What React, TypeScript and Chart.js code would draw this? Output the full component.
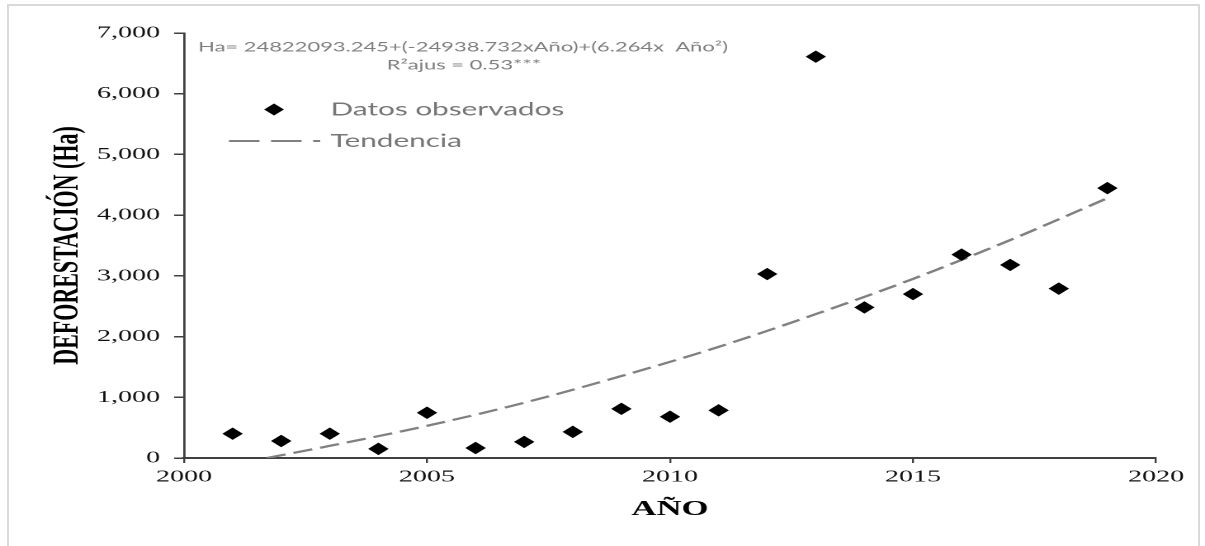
import React, { useEffect, useRef } from "react";
import { Chart, registerables } from "chart.js";

Chart.register(...registerables);

// ---- data ----
const years = [2001, 2002, 2003, 2004, 2005, 2006, 2007, 2008, 2009, 2010, 2011, 2012, 2013, 2014, 2015, 2016, 2017, 2018, 2019];
const deforestation = [400, 280, 400, 150, 745, 165, 265, 430, 810, 680, 785, 3030, 6610, 2480, 2700, 3350, 3180, 2790, 4445];

const trendYears = [2001.7, 2003, 2005, 2007, 2009, 2011, 2013, 2015, 2017, 2019];
const trendValues = [0, 200, 530, 910, 1350, 1830, 2370, 2950, 3590, 4280];

const xTicks = [2000, 2005, 2010, 2015, 2020];
const yTicks = [0, 1000, 2000, 3000, 4000, 5000, 6000, 7000];

const seriesLabels = ["Datos observados", "Tendencia"];
const equationLines = ["Ha= 24822093.245+(-24938.732xAño)+(6.264x  Año²)", "R²ajus = 0.53***"];
const xTitle = "AÑO";
const yTitle = "DEFORESTACIÓN (Ha)";

// ---- layout (the original figure is stretched horizontally) ----
const PAGE_W = 1205;
const PAGE_H = 546;
const CANVAS_W = 730;
const STRETCH = PAGE_W / CANVAS_W;

const annotationPlugin = {
  id: "excelAnnotations",
  afterDraw(chart: any) {
    const ctx = chart.ctx as CanvasRenderingContext2D;
    const ds0 = chart.data.datasets[0];
    const ds1 = chart.data.datasets[1];
    ctx.save();
    // equation
    ctx.fillStyle = "#7f7f7f";
    ctx.font = '13.3px "Lato"';
    ctx.textAlign = "center";
    ctx.textBaseline = "middle";
    ctx.fillText(equationLines[0], 280.5, 47);
    ctx.fillText(equationLines[1], 281, 65);

    // legend: diamond
    const lx = 166;
    const ly = 109.5;
    const r = 6;
    ctx.fillStyle = ds0.backgroundColor;
    ctx.beginPath();
    ctx.moveTo(lx - r, ly);
    ctx.lineTo(lx, ly - r);
    ctx.lineTo(lx + r, ly);
    ctx.lineTo(lx, ly + r);
    ctx.closePath();
    ctx.fill();

    // legend: dashed line
    ctx.strokeStyle = ds1.borderColor;
    ctx.lineWidth = 2;
    ctx.setLineDash([18.5, 7]);
    ctx.beginPath();
    ctx.moveTo(138.7, 141);
    ctx.lineTo(194, 141);
    ctx.stroke();
    ctx.setLineDash([]);

    // legend texts
    ctx.fillStyle = "#767676";
    ctx.font = '18px "Lato"';
    ctx.textAlign = "left";
    ctx.fillText(ds0.label, 200.3, 109.5);
    ctx.fillText(ds1.label, 200.3, 141);
    ctx.restore();
  },
};

export default function App() {
  const canvasRef = useRef<HTMLCanvasElement | null>(null);

  useEffect(() => {
    const canvas = canvasRef.current;
    if (!canvas) return;
    const chart = new Chart(canvas, {
      type: "scatter",
      data: {
        datasets: [
          {
            label: seriesLabels[0],
            data: years.map((y, i) => ({ x: y, y: deforestation[i] })),
            backgroundColor: "#000000",
            borderColor: "#000000",
            borderWidth: 1,
            pointStyle: "rectRot",
            pointRadius: 5.5,
            showLine: false,
            order: 0,
          },
          {
            label: seriesLabels[1],
            data: trendYears.map((y, i) => ({ x: y, y: trendValues[i] })),
            showLine: true,
            borderColor: "#808080",
            borderWidth: 2.2,
            borderDash: [12, 5],
            pointRadius: 0,
            cubicInterpolationMode: "monotone",
            fill: false,
            order: 1,
          },
        ],
      },
      options: {
        responsive: false,
        maintainAspectRatio: false,
        animation: false,
        devicePixelRatio: 2,
        events: [],
        layout: { padding: { top: 33, right: CANVAS_W - 1156 / STRETCH, bottom: 18, left: 0 } },
        plugins: {
          legend: { display: false },
          tooltip: { enabled: false },
          title: { display: false },
        },
        scales: {
          x: {
            type: "linear",
            min: 2000,
            max: 2020,
            afterBuildTicks: (s: any) => {
              s.ticks = xTicks.map((v) => ({ value: v }));
            },
            afterFit: (s: any) => {
              s.height = 70;
            },
            grid: {
              display: true,
              drawOnChartArea: false,
              drawTicks: true,
              tickLength: 5,
              color: "#404040",
              lineWidth: 1.2,
            },
            border: { display: true, color: "#404040", width: 2 },
            ticks: {
              padding: 4,
              color: "#111111",
              font: { family: "Liberation Serif", size: 17 },
              maxRotation: 0,
              autoSkip: false,
              callback: (v: any) => String(v),
            },
            title: {
              display: true,
              text: xTitle,
              color: "#000000",
              font: { family: "Liberation Serif", size: 21, weight: "bold" },
              padding: { top: 0, bottom: 6 },
            },
          },
          y: {
            type: "linear",
            min: 0,
            max: 7000,
            afterBuildTicks: (s: any) => {
              s.ticks = yTicks.map((v) => ({ value: v }));
            },
            afterFit: (s: any) => {
              s.width = 184 / STRETCH;
            },
            grid: {
              display: true,
              drawOnChartArea: false,
              drawTicks: true,
              tickLength: 6,
              color: "#404040",
              lineWidth: 1.5,
            },
            border: { display: true, color: "#404040", width: 1.4 },
            ticks: {
              padding: 8.5,
              color: "#111111",
              font: { family: "Liberation Serif", size: 17 },
              autoSkip: false,
              callback: (v: any) => Number(v).toLocaleString("en-US"),
            },
            title: {
              display: true,
              text: yTitle,
              color: "#000000",
              font: { family: "Liberation Serif", size: 22, weight: "bold" },
              padding: { top: 28, bottom: 0 },
            },
          },
        },
      } as any,
      plugins: [annotationPlugin],
    });
    return () => chart.destroy();
  }, []);

  return (
    <div
      style={{
        position: "fixed",
        left: 0,
        top: 0,
        width: PAGE_W,
        height: PAGE_H,
        overflow: "hidden",
        background: "#ffffff",
      }}
    >
      <div
        style={{
          position: "absolute",
          left: 7,
          top: 4,
          width: 1189,
          height: 540,
          borderTop: "2px solid #d9d9d9",
          borderLeft: "2px solid #d9d9d9",
          borderRight: "2px solid #d9d9d9",
        }}
      />
      <div
        style={{
          position: "absolute",
          left: 0,
          top: 0,
          width: CANVAS_W,
          height: PAGE_H,
          transform: `scaleX(${STRETCH})`,
          transformOrigin: "0 0",
        }}
      >
        <canvas
          ref={canvasRef}
          width={CANVAS_W}
          height={PAGE_H}
          style={{ display: "block", width: CANVAS_W, height: PAGE_H }}
        />
      </div>
    </div>
  );
}
